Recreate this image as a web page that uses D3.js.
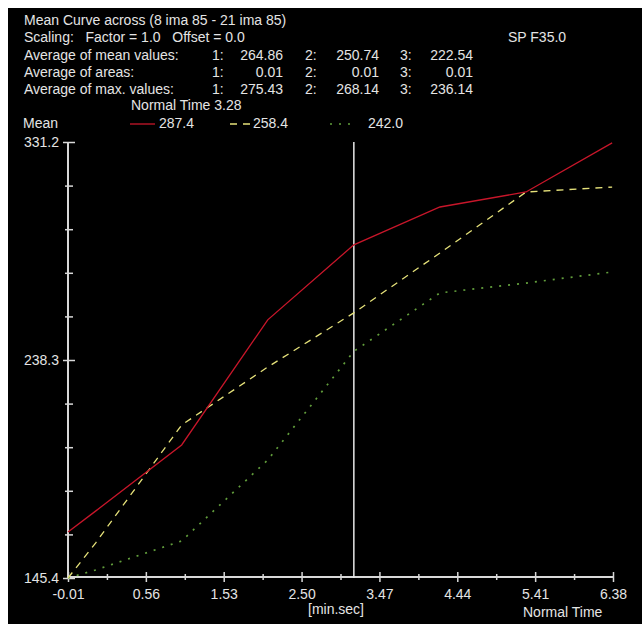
<!DOCTYPE html>
<html>
<head>
<meta charset="utf-8">
<script src="https://cdn.jsdelivr.net/npm/d3@7"></script>
<style>
  body { margin: 0; background: #fff; }
  svg text { font-family: "Liberation Sans", Arial, sans-serif; font-size: 14px; fill: #e4e4e4; }
</style>
</head>
<body>
<div id="chart-area"></div>
<script>
// sample times [min.sec] of the curve points
var times = [-0.04, 0.28, 1.28, 2.28, 3.28, 4.28, 5.28, 6.28];
// mean curves 1, 2, 3
var curve1 = [165.0, 173.9, 202.1, 255.4, 287.4, 303.5, 309.9, 330.8];
var curve2 = [145.4, 160.3, 210.6, 235.3, 258.4, 283.9, 309.9, 312.0];
var curve3 = [145.4, 148.8, 161.2, 195.7, 242.0, 266.9, 271.1, 275.8];
var legendValues = ["287.4", "258.4", "242.0"];
var xTickLabels = ["-0.01", "0.56", "1.53", "2.50", "3.47", "4.44", "5.41", "6.38"];
var yTickLabels = ["145.4", "238.3", "331.2"];
var normalTime = 3.28;
var headerRows = [
    ["Average of mean values:", "264.86", "250.74", "222.54"],
    ["Average of areas:", "0.01", "0.01", "0.01"],
    ["Average of max. values:", "275.43", "268.14", "236.14"]
];

function meanCurve() {
    var W = 642, H = 624;
    var xDomain = [-0.04, 6.29], yDomain = [145.4, 331.2];

    var svg = d3.select("#chart-area")
        .append("svg")
            .attr("width", W)
            .attr("height", H);

    svg.append("rect")
        .attr("x", 8).attr("y", 8)
        .attr("width", W - 8).attr("height", H - 8)
        .attr("fill", "#000");

    var x = d3.scaleLinear().domain(xDomain).range([68, 613]);
    var y = d3.scaleLinear().domain(yDomain).range([578, 142]);

    // header texts
    var head = svg.append("g").attr("class", "header");
    head.append("text").attr("x", 24).attr("y", 25).text("Mean Curve across (8 ima 85 - 21 ima 85)");
    head.append("text").attr("x", 24).attr("y", 42).attr("xml:space", "preserve")
        .text("Scaling:   Factor = 1.0   Offset = 0.0");
    head.append("text").attr("x", 508).attr("y", 42).text("SP F35.0");

    var rows = head.selectAll(".row")
        .data(headerRows)
        .enter().append("g")
        .attr("class", "row")
        .attr("transform", (d, i) => "translate(0," + (60 + i * 17) + ")");
    rows.append("text").attr("x", 24).text(d => d[0]);
    [[212, 283], [305, 379], [400, 473]].forEach(function(c, k) {
        rows.append("text").attr("x", c[0]).text((k + 1) + ":");
        rows.append("text").attr("x", c[1]).attr("text-anchor", "end").text(d => d[k + 1]);
    });

    head.append("text").attr("x", 131).attr("y", 110).text("Normal Time " + normalTime.toFixed(2));
    head.append("text").attr("x", 23).attr("y", 128).text("Mean");

    var series = [
        {values: curve1, color: "#c8162a", dash: null, width: 1.3},
        {values: curve2, color: "#e6e27a", dash: "7,6", width: 1.3},
        {values: curve3, color: "#629e3c", dash: "2,7", width: 1.7}
    ];

    // legend
    var legX = [130, 230, 330], legText = [159, 253, 368];
    series.forEach(function(s, i) {
        svg.append("line")
            .attr("x1", legX[i]).attr("x2", legX[i] + (i == 0 ? 25 : 22))
            .attr("y1", 124).attr("y2", 124)
            .attr("stroke", s.color)
            .attr("stroke-width", s.width)
            .attr("stroke-dasharray", s.dash);
        svg.append("text").attr("x", legText[i]).attr("y", 128).text(legendValues[i]);
    });

    // y axis
    var yMajor = yTickLabels.map(Number);
    var yMinor = d3.range(1, 10).filter(k => k != 5)
        .map(k => yDomain[0] + k * (yDomain[1] - yDomain[0]) / 10);
    svg.append("g").attr("class", "y-axis").attr("transform", "translate(68,0)")
        .call(d3.axisLeft(y).tickValues(yMajor).tickSize(5).tickPadding(4)
            .tickFormat((d, i) => yTickLabels[i]));
    svg.append("g").attr("class", "y-axis").attr("transform", "translate(68,0)")
        .call(d3.axisRight(y).tickValues(yMajor).tickSize(7).tickFormat(""));
    svg.append("g").attr("class", "y-axis").attr("transform", "translate(68,0)")
        .call(d3.axisLeft(y).tickValues(yMinor).tickSize(3).tickFormat(""));
    svg.append("g").attr("class", "y-axis").attr("transform", "translate(68,0)")
        .call(d3.axisRight(y).tickValues(yMinor).tickSize(5).tickFormat(""));

    // x axis
    var xPos = d3.range(8).map(i => xDomain[0] + i * (xDomain[1] - xDomain[0]) / 7);
    var xMinor = d3.range(7).map(i => xDomain[0] + (i + 0.5) * (xDomain[1] - xDomain[0]) / 7);
    svg.append("g").attr("class", "x-axis").attr("transform", "translate(0,577)")
        .call(d3.axisBottom(x).tickValues(xPos).tickSize(5).tickPadding(7)
            .tickFormat((d, i) => xTickLabels[i]));
    svg.append("g").attr("class", "x-axis").attr("transform", "translate(0,577)")
        .call(d3.axisTop(x).tickValues(xPos).tickSize(5).tickFormat(""));
    svg.append("g").attr("class", "x-axis").attr("transform", "translate(0,577)")
        .call(d3.axisBottom(x).tickValues(xMinor).tickSize(3).tickFormat(""));
    svg.append("g").attr("class", "x-axis").attr("transform", "translate(0,577)")
        .call(d3.axisTop(x).tickValues(xMinor).tickSize(3).tickFormat(""));

    svg.selectAll(".domain, .tick line")
        .attr("stroke", "#d8d8d8")
        .attr("stroke-width", 1.5);
    svg.selectAll(".x-axis .domain").attr("d", "M68,0H613");
    svg.selectAll(".y-axis .domain").attr("d", "M0,142V578");
    svg.selectAll(".tick text")
        .style("font-family", "Liberation Sans, Arial, sans-serif")
        .style("font-size", "14px")
        .attr("fill", "#e4e4e4");

    svg.append("text").attr("x", 308).attr("y", 614).text("[min.sec]");
    svg.append("text").attr("x", 523).attr("y", 617).text("Normal Time");

    // normal time marker
    svg.append("line")
        .attr("x1", x(normalTime)).attr("x2", x(normalTime))
        .attr("y1", y(yDomain[1])).attr("y2", y(yDomain[0]))
        .attr("stroke", "#e8e8e8")
        .attr("stroke-width", 1.5);

    // curves
    var line = d3.line()
        .x((d, i) => x(times[i]))
        .y(d => y(d));
    svg.append("g").attr("class", "curves")
        .selectAll("path")
        .data(series.slice().reverse())
        .enter().append("path")
        .attr("fill", "none")
        .attr("stroke", d => d.color)
        .attr("stroke-width", d => d.width)
        .attr("stroke-dasharray", d => d.dash)
        .attr("d", d => line(d.values));
}

meanCurve();
</script>
</body>
</html>
